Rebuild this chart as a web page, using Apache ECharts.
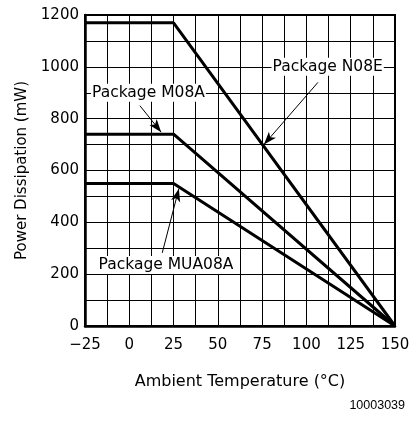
<!DOCTYPE html>
<html>
<head>
<meta charset="utf-8">
<script src="https://cdn.jsdelivr.net/npm/echarts@6/dist/echarts.min.js"></script>
<style>
  html, body { margin: 0; padding: 0; background: #fff; }
  #chart { width: 419px; height: 421px; }
</style>
</head>
<body>
<div id="chart"></div>
<script>
// 环境温度 (°C) 与各封装的功耗曲线
const temps = [-25, 25, 150]
const n08e = [1170, 1170, 0]
const m08a = [740, 740, 0]
const mua08a = [550, 550, 0]

const xTickLabels = [-25, 0, 25, 50, 75, 100, 125, 150]
const yTickLabels = [0, 200, 400, 600, 800, 1000, 1200]

const FONT = 'DejaVu Sans'

const toPairs = (vals) => temps.map((t, i) => [t, vals[i]])

const labelPoint = (text, x, y) => ({
  coord: [x, y],
  value: text,
  symbolSize: 0,
  label: {
    show: true,
    position: 'inside',
    formatter: text,
    color: '#000',
    fontFamily: FONT,
    fontSize: 15.5,
    backgroundColor: '#fff',
    padding: [1, 1]
  }
})

const arrow = (x1, y1, x2, y2) => [
  { coord: [x1, y1], symbol: 'none' },
  { coord: [x2, y2], symbol: 'arrow', symbolSize: [7, 13] }
]

const chart = echarts.init(document.getElementById('chart'))

const option = {
  animation: false,
  title: {
    text: '10003039',
    right: 9,
    bottom: 4,
    textStyle: { fontFamily: 'Liberation Sans', fontSize: 12.5, fontWeight: 'normal', color: '#000' }
  },
  grid: {
    left: 85, right: 24, top: 15, bottom: 95,
    show: true, borderColor: '#000', borderWidth: 2
  },
  xAxis: {
    type: 'value',
    min: -25, max: 150, interval: 12.5,
    name: 'Ambient Temperature (°C)',
    nameLocation: 'middle',
    nameGap: 48,
    nameTextStyle: { fontFamily: FONT, fontSize: 16, color: '#000' },
    axisLine: { onZero: false, lineStyle: { color: '#000', width: 2.5 } },
    axisTick: { show: false },
    axisLabel: {
      margin: 12,
      fontFamily: FONT, fontSize: 15, color: '#000',
      formatter: (v) => xTickLabels.includes(v) ? String(v).replace('-', '\u2212') : ''
    },
    splitLine: { show: true, lineStyle: { color: '#000', width: 1 } }
  },
  yAxis: {
    type: 'value',
    min: 0, max: 1200, interval: 100,
    name: 'Power Dissipation (mW)',
    nameLocation: 'middle',
    nameGap: 54,
    nameTextStyle: { fontFamily: FONT, fontSize: 15, color: '#000' },
    axisLine: { show: true, onZero: false, lineStyle: { color: '#000', width: 2.5 } },
    axisTick: { show: false },
    axisLabel: {
      margin: 6,
      fontFamily: FONT, fontSize: 15, color: '#000',
      formatter: (v) => yTickLabels.includes(v) ? String(v) : ''
    },
    splitLine: { show: true, lineStyle: { color: '#000', width: 1 } }
  },
  series: [
    {
      name: 'N08E', type: 'line', data: toPairs(n08e),
      symbol: 'none', lineStyle: { color: '#000', width: 3 }, z: 3
    },
    {
      name: 'M08A', type: 'line', data: toPairs(m08a),
      symbol: 'none', lineStyle: { color: '#000', width: 3 }, z: 3
    },
    {
      name: 'MUA08A', type: 'line', data: toPairs(mua08a),
      symbol: 'none', lineStyle: { color: '#000', width: 3 }, z: 3,
      markLine: {
        silent: true,
        label: { show: false },
        lineStyle: { color: '#000', width: 1, type: 'solid' },
        data: [
          arrow(106.5, 940, 76, 700),
          arrow(6, 850, 18, 748),
          arrow(18.6, 282, 28, 530)
        ]
      },
      markPoint: {
        silent: true,
        symbol: 'rect',
        data: [
          labelPoint('Package N08E', 112, 1000),
          labelPoint('Package M08A', 10.8, 900),
          labelPoint('Package MUA08A', 20.7, 235)
        ]
      }
    }
  ]
}

chart.setOption(option)
</script>
</body>
</html>
